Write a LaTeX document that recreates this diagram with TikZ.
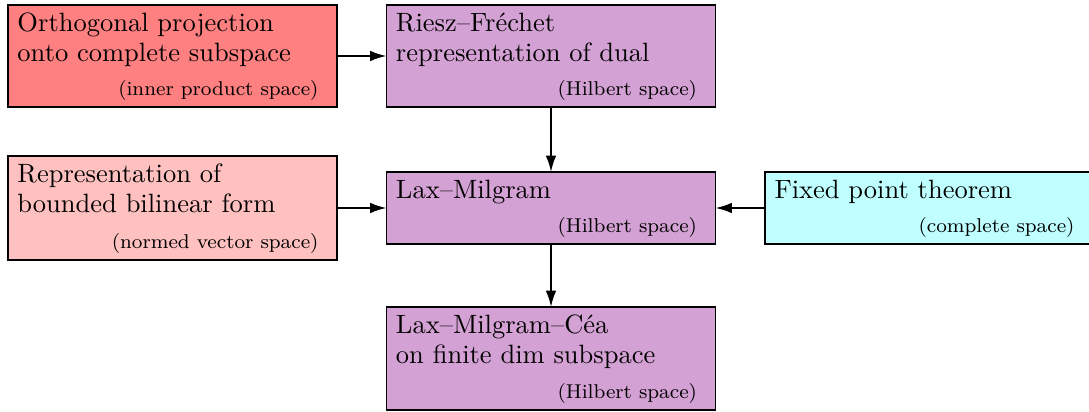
\documentclass[tikz,border=0pt]{standalone}
\usetikzlibrary{arrows.meta}
\definecolor{projred}{RGB}{255,128,128}
\definecolor{bilpink}{RGB}{255,192,192}
\definecolor{hilbpurple}{RGB}{212,161,212}
\definecolor{fixcyan}{RGB}{192,255,255}
\begin{document}
\begin{tikzpicture}[x=0.4pt,y=-0.4pt,
  box/.style={draw=black, line width=0.45pt, inner sep=0pt, outer sep=0pt, minimum width=131.6pt},
  maintext/.style={inner sep=0pt, anchor=base west, font=\fontsize{10.6}{12.7}\selectfont},
  smalltext/.style={inner sep=0pt, anchor=base east, font=\fontsize{8}{9.6}\selectfont},
  link/.style={-{Latex[length=6.5pt,width=4.2pt]}, line width=0.75pt}]
\useasboundingbox (0,0) rectangle (1089,412);
% boxes
\node[box, fill=projred, minimum height=40.8pt] (A) at (172.5,56) {};
\node[box, fill=hilbpurple, minimum height=40.8pt] (B) at (551,56) {};
\node[box, fill=bilpink, minimum height=41.6pt] (C) at (172.5,208) {};
\node[box, fill=hilbpurple, minimum height=28.8pt] (D) at (551,208) {};
\node[box, fill=fixcyan, minimum width=133.2pt, minimum height=28.8pt] (E) at (931.5,208) {};
\node[box, fill=hilbpurple, minimum height=41.2pt] (F) at (551,358.5) {};
% texts
\node[maintext] (A1) at ([shift={(9,26.5)}]A.north west) {Orthogonal projection};
\node[maintext] (A2) at ([shift={(0,30)}]A1.base west) {onto complete subspace};
\node[smalltext] (A3) at ([shift={(-18,-11.5)}]A.south east) {(inner product space)};

\node[maintext] (B1) at ([shift={(9,26.5)}]B.north west) {Riesz--Fréchet};
\node[maintext] (B2) at ([shift={(0,30)}]B1.base west) {representation of dual};
\node[smalltext] (B3) at ([shift={(-18,-11.5)}]B.south east) {(Hilbert space)};

\node[maintext] (C1) at ([shift={(9,26.5)}]C.north west) {Representation of};
\node[maintext] (C2) at ([shift={(0,30)}]C1.base west) {bounded bilinear form};
\node[smalltext] (C3) at ([shift={(-18,-11.5)}]C.south east) {(normed vector space)};

\node[maintext] (D1) at ([shift={(9,26.5)}]D.north west) {Lax--Milgram};
\node[smalltext] (D3) at ([shift={(-18,-11.5)}]D.south east) {(Hilbert space)};

\node[maintext] (E1) at ([shift={(9,26.5)}]E.north west) {Fixed point theorem};
\node[smalltext] (E3) at ([shift={(-23,-11.5)}]E.south east) {(complete space)};

\node[maintext] (F1) at ([shift={(9,26.5)}]F.north west) {Lax--Milgram--Céa};
\node[maintext] (F2) at ([shift={(0,30)}]F1.base west) {on finite dim subspace};
\node[smalltext] (F3) at ([shift={(-18,-11.5)}]F.south east) {(Hilbert space)};
% links
\draw[link] (A.east) -- (B.west);
\draw[link] (B.south) -- (D.north);
\draw[link] (C.east) -- (D.west);
\draw[link] (E.west) -- (D.east);
\draw[link] (D.south) -- (F.north);
\end{tikzpicture}
\end{document}
